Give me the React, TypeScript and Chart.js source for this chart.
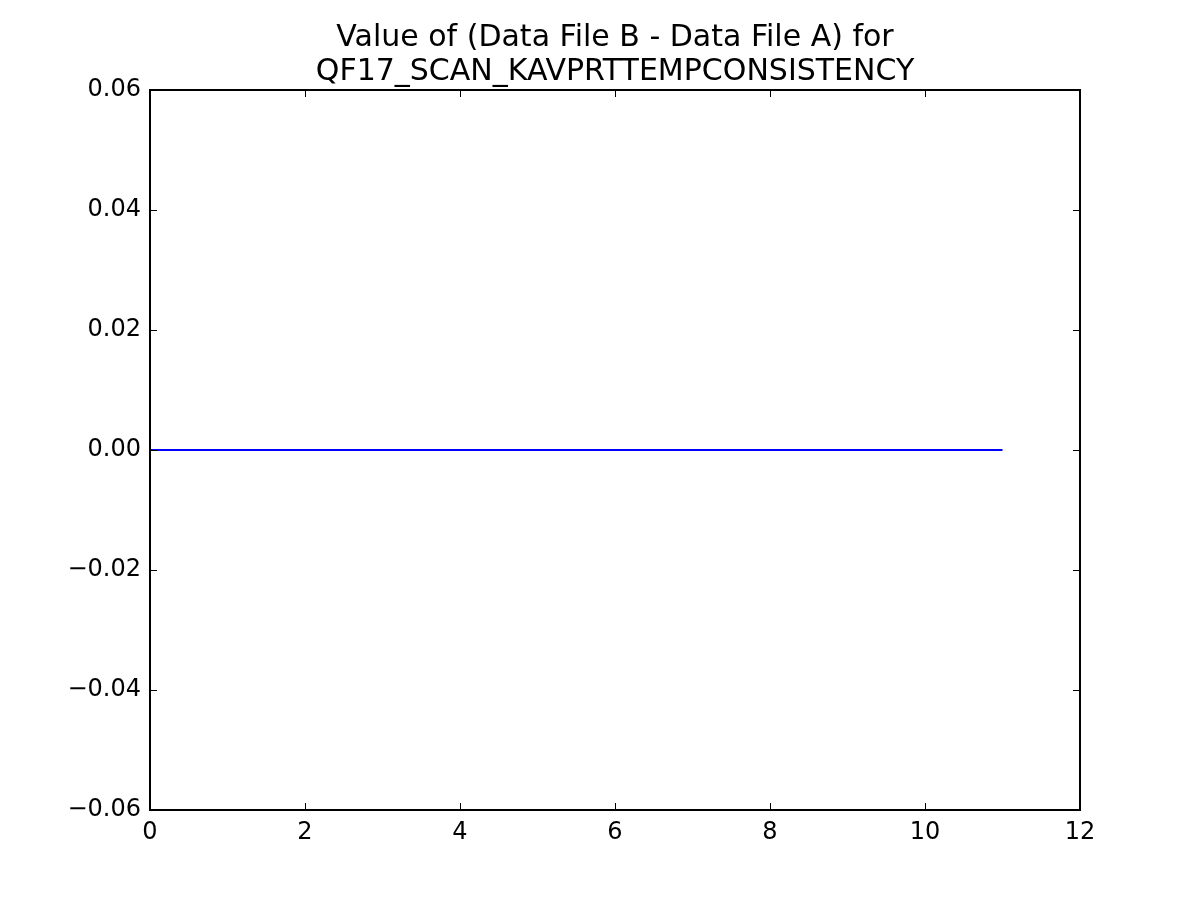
import React, { useEffect, useRef } from "react";
import { Chart, registerables } from "chart.js";

Chart.register(...registerables);

const titleLines = ["Value of (Data File B - Data File A) for", "QF17_SCAN_KAVPRTTEMPCONSISTENCY"];
const xValues = [0, 1, 2, 3, 4, 5, 6, 7, 8, 9, 10, 11];
const yValues = [0, 0, 0, 0, 0, 0, 0, 0, 0, 0, 0, 0];
const xTicks = [0, 2, 4, 6, 8, 10, 12];
const yTicks = [-0.06, -0.04, -0.02, 0, 0.02, 0.04, 0.06];

const FONT = "'DejaVu Sans', sans-serif";

const framePlugin = {
  id: "framePlugin",
  afterDraw(chart: any) {
    const ctx = chart.ctx;
    const { left, right, top, bottom } = chart.chartArea;
    const xs = chart.scales.x;
    const ys = chart.scales.y;
    ctx.save();
    ctx.strokeStyle = "#000";
    ctx.lineWidth = 2;
    ctx.strokeRect(left, top, right - left, bottom - top);
    ctx.lineWidth = 1;
    const L = 7;
    ctx.beginPath();
    for (const v of xTicks) {
      const p = Math.round(xs.getPixelForValue(v)) + 0.5;
      ctx.moveTo(p, bottom);
      ctx.lineTo(p, bottom - L);
      ctx.moveTo(p, top);
      ctx.lineTo(p, top + L);
    }
    for (const v of yTicks) {
      const p = Math.round(ys.getPixelForValue(v)) + 0.5;
      ctx.moveTo(left, p);
      ctx.lineTo(left + L, p);
      ctx.moveTo(right, p);
      ctx.lineTo(right - L, p);
    }
    ctx.stroke();
    ctx.fillStyle = "#000";
    ctx.font = `30px ${FONT}`;
    ctx.textAlign = "center";
    ctx.textBaseline = "alphabetic";
    const cx = (left + right) / 2;
    ctx.fillText(titleLines[0], cx, 46);
    ctx.fillText(titleLines[1], cx, 80);
    ctx.restore();
  },
};

function fmt(v: number): string {
  const s = Math.abs(v).toFixed(2);
  return v < -1e-9 ? "\u2212" + s : s;
}

export default function App() {
  const ref = useRef<HTMLCanvasElement>(null);
  useEffect(() => {
    if (!ref.current) return;
    const chart = new Chart(ref.current, {
      type: "line",
      data: {
        datasets: [
          {
            data: xValues.map((x, i) => ({ x, y: yValues[i] })),
            borderColor: "#0000ff",
            borderWidth: 2,
            pointRadius: 0,
            fill: false,
            tension: 0,
          },
        ],
      },
      options: {
        responsive: false,
        animation: false,
        layout: { padding: { left: 0, right: 120, top: 90, bottom: 0 } },
        plugins: { legend: { display: false }, tooltip: { enabled: false }, title: { display: false } },
        scales: {
          x: {
            type: "linear",
            min: 0,
            max: 12,
            grid: { display: false, drawTicks: false },
            border: { display: false },
            ticks: {
              stepSize: 2,
              padding: 8,
              color: "#000",
              font: { family: FONT, size: 24 },
              maxRotation: 0,
              callback: (v: any) => String(v),
            },
            afterFit: (s: any) => {
              s.height = 90;
            },
          },
          y: {
            type: "linear",
            min: -0.06,
            max: 0.06,
            grid: { display: false, drawTicks: false },
            border: { display: false },
            ticks: {
              stepSize: 0.02,
              padding: 9,
              color: "#000",
              font: { family: FONT, size: 24 },
              callback: (v: any) => fmt(Number(v)),
            },
            afterFit: (s: any) => {
              s.width = 150;
            },
          },
        },
      },
      plugins: [framePlugin],
    });
    return () => chart.destroy();
  }, []);
  return (
    <div style={{ position: "absolute", left: 0, top: 0, width: 1200, height: 900, background: "#fff" }}>
      <canvas ref={ref} width={1200} height={900} style={{ display: "block" }} />
    </div>
  );
}
